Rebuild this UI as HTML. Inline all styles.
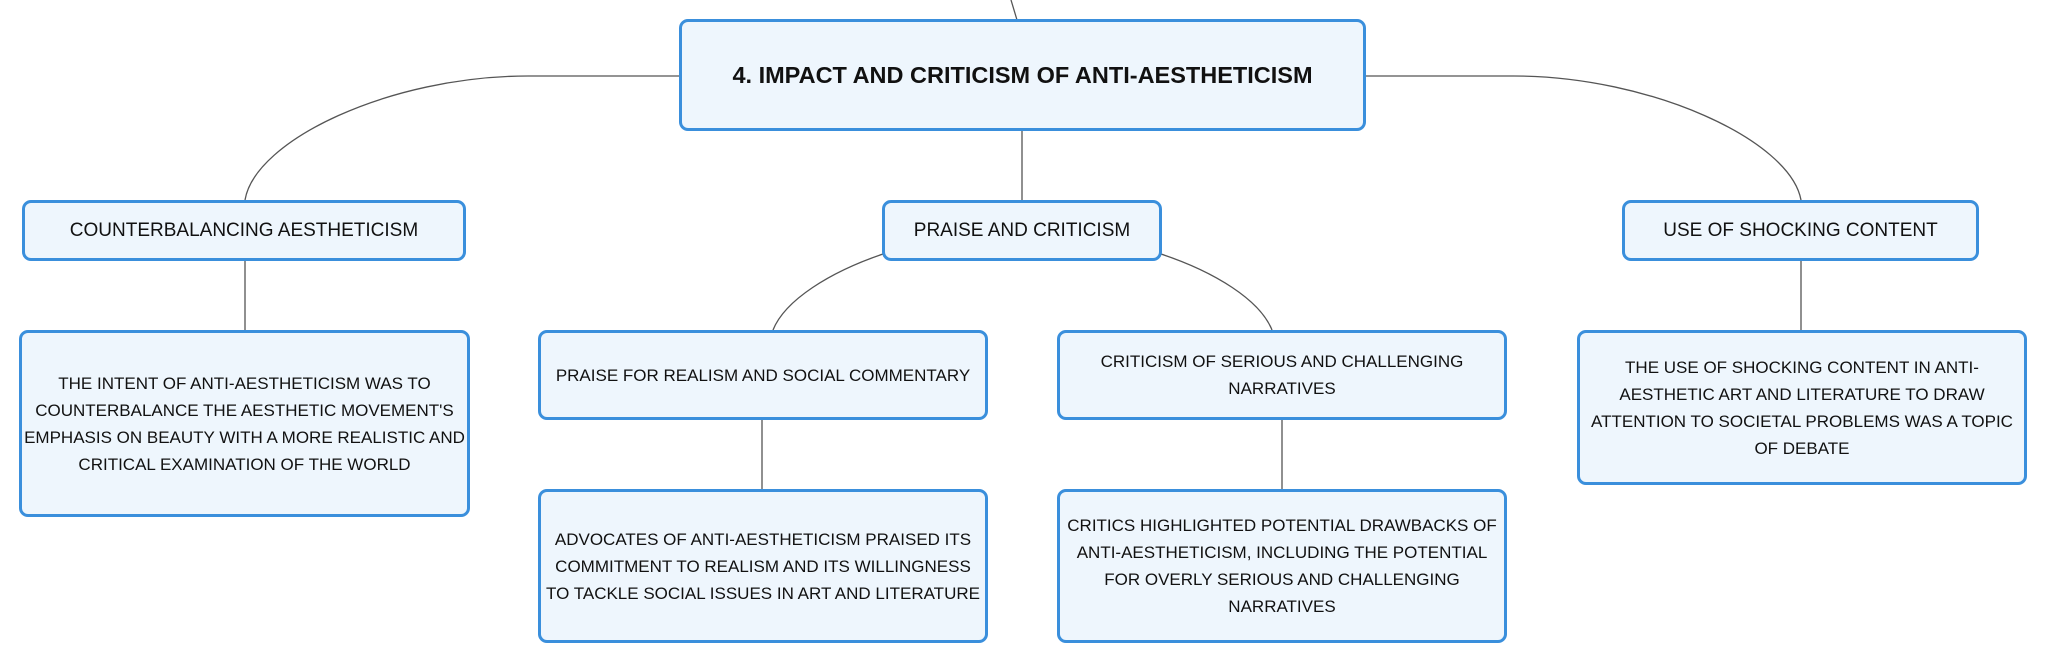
<!DOCTYPE html>
<html><head><meta charset="utf-8"><style>
html,body{margin:0;padding:0;background:#fff;}
body{width:2046px;height:663px;position:relative;overflow:hidden;font-family:"Liberation Sans",sans-serif;}
.b{position:absolute;box-sizing:border-box;border:3px solid #3a8fdc;border-radius:9px;background:#eef6fd;display:flex;align-items:center;justify-content:center;text-align:center;color:#111;font-size:17px;line-height:27px;white-space:nowrap;}
.h{font-size:19px;}
.r{font-weight:bold;font-size:23.5px;}
svg{position:absolute;left:0;top:0;}
</style></head><body>
<svg width="2046" height="663">
<g fill="none" stroke="#555" stroke-width="1.3">
<path d="M1011 0 L1017 20"/>
<path d="M680 76 L528 76 C390 76 255 140 245 200"/>
<path d="M1365 76 L1514 76 C1650 76 1790 140 1801 200"/>
<path d="M1022 130 L1022 200"/>
<path d="M245 260 L245 330"/>
<path d="M883 254 C830 272 785 300 773 330"/>
<path d="M1161 254 C1215 272 1260 300 1272 330"/>
<path d="M762 419 L762 489"/>
<path d="M1282 419 L1282 489"/>
<path d="M1801 260 L1801 330"/>
</g></svg>
<div class="b r" style="left:679px;top:19px;width:687px;height:112px;">4. IMPACT AND CRITICISM OF ANTI-AESTHETICISM</div>
<div class="b h" style="left:22px;top:200px;width:444px;height:61px;">COUNTERBALANCING AESTHETICISM</div>
<div class="b h" style="left:882px;top:200px;width:280px;height:61px;">PRAISE AND CRITICISM</div>
<div class="b h" style="left:1622px;top:200px;width:357px;height:61px;">USE OF SHOCKING CONTENT</div>
<div class="b" style="left:19px;top:330px;width:451px;height:187px;">THE INTENT OF ANTI-AESTHETICISM WAS TO<br>COUNTERBALANCE THE AESTHETIC MOVEMENT'S<br>EMPHASIS ON BEAUTY WITH A MORE REALISTIC AND<br>CRITICAL EXAMINATION OF THE WORLD</div>
<div class="b" style="left:538px;top:330px;width:450px;height:90px;">PRAISE FOR REALISM AND SOCIAL COMMENTARY</div>
<div class="b" style="left:1057px;top:330px;width:450px;height:90px;">CRITICISM OF SERIOUS AND CHALLENGING<br>NARRATIVES</div>
<div class="b" style="left:538px;top:489px;width:450px;height:154px;">ADVOCATES OF ANTI-AESTHETICISM PRAISED ITS<br>COMMITMENT TO REALISM AND ITS WILLINGNESS<br>TO TACKLE SOCIAL ISSUES IN ART AND LITERATURE</div>
<div class="b" style="left:1057px;top:489px;width:450px;height:154px;">CRITICS HIGHLIGHTED POTENTIAL DRAWBACKS OF<br>ANTI-AESTHETICISM, INCLUDING THE POTENTIAL<br>FOR OVERLY SERIOUS AND CHALLENGING<br>NARRATIVES</div>
<div class="b" style="left:1577px;top:330px;width:450px;height:155px;">THE USE OF SHOCKING CONTENT IN ANTI-<br>AESTHETIC ART AND LITERATURE TO DRAW<br>ATTENTION TO SOCIETAL PROBLEMS WAS A TOPIC<br>OF DEBATE</div>
</body></html>
